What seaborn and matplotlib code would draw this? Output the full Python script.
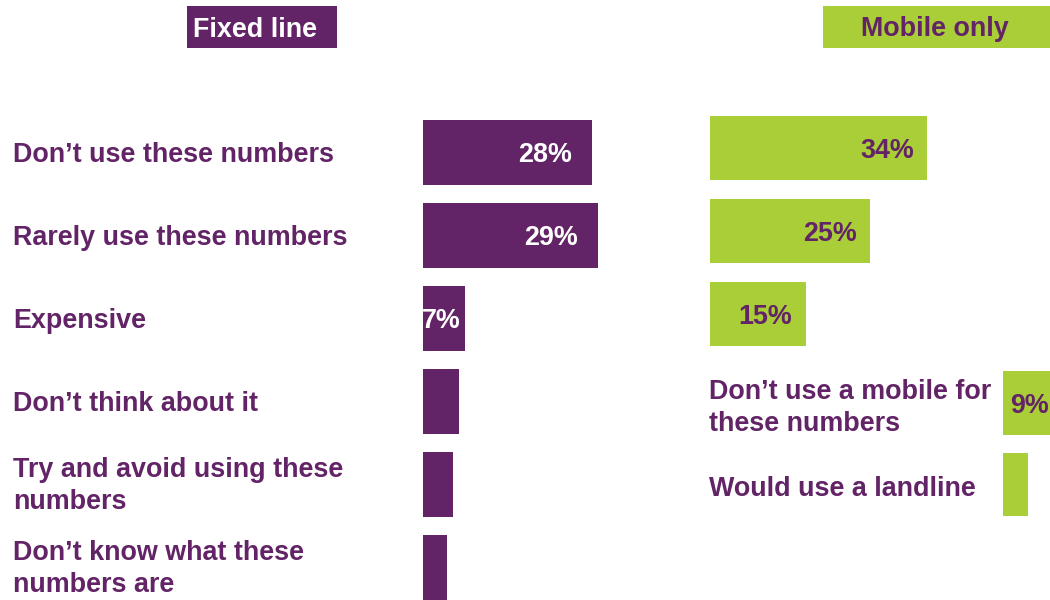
import matplotlib
matplotlib.use("Agg")
import matplotlib.pyplot as plt
import matplotlib.transforms as mtransforms
from matplotlib.patches import Rectangle
import pandas as pd
import seaborn as sns

# Reasons for not calling these numbers, share of respondents (%)
fixed_reasons = [
    "Don’t use these numbers",
    "Rarely use these numbers",
    "Expensive",
    "Don’t think about it",
    "Try and avoid using these\nnumbers",
    "Don’t know what these\nnumbers are",
]
fixed_values = [28, 29, 7, 6, 5, 4]
fixed_value_labels = ["28%", "29%", "7%", "", "", ""]

# Mobile-only households: first three rows share the reasons above
mobile_shared_reasons = fixed_reasons[:3]
mobile_shared_values = [34, 25, 15]
mobile_shared_labels = ["34%", "25%", "15%"]

mobile_extra_reasons = ["Don’t use a mobile for\nthese numbers", "Would use a landline"]
mobile_extra_values = [9, 4]
mobile_extra_labels = ["9%", ""]

PURPLE = "#622466"
GREEN = "#A9CE38"
W, H = 1050, 600
FONT = "Liberation Sans"
FS = 19.4
LINE_PX = 32

sns.set_theme(style="white")
plt.rcParams["font.family"] = [FONT, "DejaVu Sans"]

fig = plt.figure(figsize=(W / 100, H / 100), dpi=100, facecolor="white")


def axes_px(left, top, width, height):
    return fig.add_axes([left / W, 1 - (top + height) / H, width / W, height / H])


def shifted(trans, dx=0, dy=0):
    # shift in pixels, dy positive = downwards
    return mtransforms.offset_copy(trans, fig=fig, x=dx, y=-dy, units="dots")


def draw_bars(ax, reasons, values, color, xmax):
    df = pd.DataFrame({"reason": reasons, "share": values})
    sns.barplot(data=df, x="share", y="reason", orient="h", color=color,
                saturation=1, width=0.78, linewidth=0, ax=ax)
    ax.set_xlim(0, xmax)
    ax.set_ylim(len(reasons) - 0.5, -0.5)
    ax.axis("off")


def value_labels(ax, values, labels, color, px_per_unit, inset):
    for i, (v, lab) in enumerate(zip(values, labels)):
        if not lab:
            continue
        if v * px_per_unit < 60:
            ax.text(v / 2, i, lab, ha="center", va="baseline", color=color,
                    fontsize=FS, fontweight="bold",
                    transform=shifted(ax.transData, -2, 10), clip_on=False)
        else:
            ax.text(v, i, lab, ha="right", va="baseline", color=color,
                    fontsize=FS, fontweight="bold",
                    transform=shifted(ax.transData, -inset, 10), clip_on=False)


def category_labels(ax, reasons, x_px, one_line_dy, two_line_dy):
    blend = mtransforms.blended_transform_factory(fig.transFigure, ax.transData)
    for i, r in enumerate(reasons):
        lines = r.split("\n")
        dy0 = two_line_dy if len(lines) > 1 else one_line_dy
        for k, line in enumerate(lines):
            ax.text(x_px / W, i, line, ha="left", va="baseline", color=PURPLE,
                    fontsize=FS, fontweight="bold",
                    transform=shifted(blend, 0, dy0 + k * LINE_PX), clip_on=False)


# Fixed line column
FIX_PX = 6.05
ax_fixed = axes_px(422.5, 111, 30 * FIX_PX, 6 * 83)
draw_bars(ax_fixed, fixed_reasons, fixed_values, PURPLE, 30)
value_labels(ax_fixed, fixed_values, fixed_value_labels, "white", FIX_PX, 20)
category_labels(ax_fixed, fixed_reasons, 13, 10, -7)

# Mobile only column, shared reasons
MOB_PX = 6.4
ax_mob = axes_px(709.5, 106.5, 40 * MOB_PX, 3 * 83)
draw_bars(ax_mob, mobile_shared_reasons, mobile_shared_values, GREEN, 40)
value_labels(ax_mob, mobile_shared_values, mobile_shared_labels, PURPLE, MOB_PX, 13)

# Mobile only column, extra reasons
ax_mob2 = axes_px(1002.5, 362.25, 10 * MOB_PX, 2 * 81.5)
draw_bars(ax_mob2, mobile_extra_reasons, mobile_extra_values, GREEN, 10)
value_labels(ax_mob2, mobile_extra_values, mobile_extra_labels, PURPLE, MOB_PX, 13)
category_labels(ax_mob2, mobile_extra_reasons, 709, 11, -4)

# Column headers
fig.patches.append(Rectangle((187 / W, 1 - 48 / H), 150 / W, 42 / H,
                             transform=fig.transFigure, facecolor=PURPLE,
                             edgecolor="none"))
fig.text(255 / W, 1 - 37 / H, "Fixed line", ha="center", va="baseline",
         color="white", fontsize=FS, fontweight="bold")
fig.patches.append(Rectangle((823 / W, 1 - 48 / H), 240 / W, 42 / H,
                             transform=fig.transFigure, facecolor=GREEN,
                             edgecolor="none"))
fig.text(935 / W, 1 - 36 / H, "Mobile only", ha="center", va="baseline",
         color=PURPLE, fontsize=FS, fontweight="bold")

fig.savefig("out.png", dpi=100, facecolor="white")
